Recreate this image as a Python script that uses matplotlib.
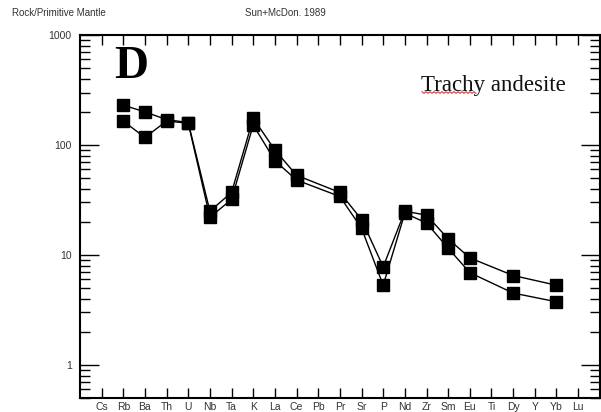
import matplotlib
matplotlib.use("Agg")
import matplotlib.pyplot as plt
import numpy as np
from matplotlib.ticker import LogLocator, NullFormatter, FixedLocator
from matplotlib.lines import Line2D

elements = ["Cs", "Rb", "Ba", "Th", "U", "Nb", "Ta", "K", "La", "Ce", "Pb", "Pr",
            "Sr", "P", "Nd", "Zr", "Sm", "Eu", "Ti", "Dy", "Y", "Yb", "Lu"]
nan = np.nan
sample_1 = [nan, 230, 200, 170, 160, 25, 37, 175, 90, 53, nan, 37,
            21, 7.8, 25, 23, 14, 9.4, nan, 6.5, nan, 5.3, nan]
sample_2 = [nan, 165, 117, 165, 158, 22, 32, 152, 72, 48, nan, 34,
            17.5, 5.3, 24, 19.5, 11.5, 6.9, nan, 4.5, nan, 3.75, nan]

fig = plt.figure(figsize=(6.01, 4.12), dpi=100)
ax = fig.add_axes([0.133, 0.034, 0.865, 0.881])

x = np.arange(len(elements))
for s in (sample_1, sample_2):
    s = np.array(s, dtype=float)
    m = ~np.isnan(s)
    ax.plot(x[m], s[m], color="black", lw=1.0, marker="s", ms=8,
            mfc="black", mec="black")

ax.set_yscale("log")
ax.set_ylim(0.5, 1000)
ax.set_xlim(-1, 23)

ax.set_xticks(x)
ax.set_xticklabels(elements, fontsize=7.5, color="#333333", family="Liberation Sans")
ax.yaxis.set_major_locator(FixedLocator([1, 10, 100, 1000]))
ax.set_yticklabels(["1", "10", "100", "1000"], fontsize=7.5, color="#333333",
                   family="Liberation Sans")
ax.yaxis.set_minor_locator(LogLocator(base=10, subs=np.arange(2, 10)))
ax.yaxis.set_minor_formatter(NullFormatter())

ax.tick_params(axis="x", which="both", direction="in", top=True, bottom=True,
               length=7, width=1.0, pad=3)
ax.tick_params(axis="y", which="major", direction="in", left=True, right=True,
               length=14, width=1.0, pad=6)
ax.tick_params(axis="y", which="minor", direction="in", left=True, right=True,
               length=7, width=1.0)
for sp in ax.spines.values():
    sp.set_linewidth(1.5)

ax.text(0.065, 0.97, "D", transform=ax.transAxes, fontsize=34, fontweight="bold",
        family="Liberation Serif", va="top", ha="left")
ax.text(0.934, 0.86, "Trachy andesite", transform=ax.transAxes, fontsize=16.5,
        family="Liberation Serif", va="center", ha="right", color="#111111")

# red spell-check squiggle under "Trachy"
sx = np.linspace(422, 476, 28)
sy = 92.5 + np.where(np.arange(28) % 2 == 0, -0.8, 0.8)
fig.add_artist(Line2D(sx / 601, 1 - sy / 412, color="#d04040", lw=0.8,
                      transform=fig.transFigure))

fig.text(12 / 601, 1 - 13 / 412, "Rock/Primitive Mantle", fontsize=7,
         color="#333333", family="Liberation Sans", va="center", ha="left")
fig.text(245 / 601, 1 - 13 / 412, "Sun+McDon. 1989", fontsize=7,
         color="#333333", family="Liberation Sans", va="center", ha="left")

fig.savefig("out.png", dpi=100)
